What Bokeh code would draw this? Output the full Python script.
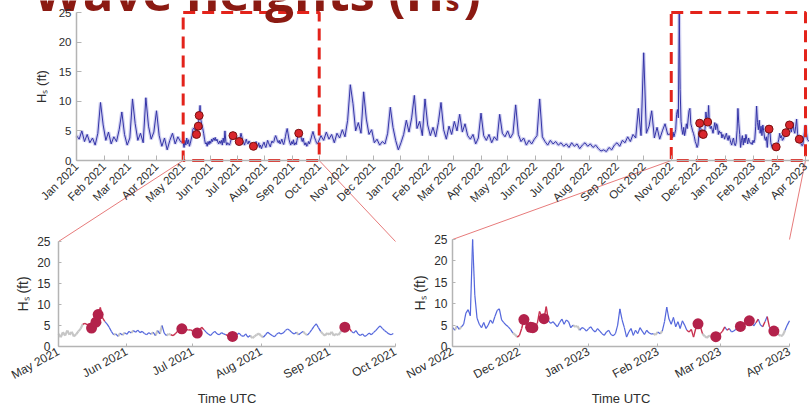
import math
import numpy as np
import pandas as pd
from bokeh.plotting import figure
from bokeh.models import Range1d, LinearAxis, FixedTicker
from bokeh.core.properties import value
from bokeh.embed import file_html
from bokeh.resources import INLINE

W, H = 809, 406

# ---------------- data ----------------
# coarse part, Jan 1 - Apr 28 2021, every 3 days
SEG_A_START = "2021-01-01"
SEG_A_HS = [4.2, 3.6, 5.0, 3.2, 4.4, 3.0, 3.8, 2.6, 4.6, 9.8, 6.0, 3.4, 4.8, 2.8, 4.0,
            3.2, 5.2, 8.2, 4.4, 2.6, 3.8, 10.4, 6.2, 3.4, 4.6, 3.0, 10.6, 5.8, 3.6, 4.8,
            8.4, 4.2, 2.4, 3.8, 1.8, 3.4, 4.6, 2.8, 4.0, 3.2]

# zoom window 1, May 1 - Sep 30 2021, daily
W1_START = "2021-05-01"
W1_HS = [3.0, 2.2, 3.4, 2.6, 3.8, 2.8, 3.5, 2.4, 2.9, 3.6, 4.2,
         5.3, 5.5, 5.2, 5.4, 4.4, 5.0, 5.8, 7.6, 9.3, 6.8,
         6.0, 5.4, 4.6, 3.6,
         2.8, 3.0, 2.4, 3.2, 2.7, 3.3, 2.9, 3.6, 3.2,
         3.8, 3.4, 3.9, 3.3, 3.6, 3.1, 2.8, 3.3,
         2.9, 3.4, 2.6, 3.8, 3.0, 5.0, 3.2, 2.6, 3.0,
         2.8, 2.6, 3.0, 3.6,
         4.0, 4.2, 4.3, 4.1, 3.9, 4.0, 3.6, 3.4, 3.2,
         3.8, 4.6, 4.0, 3.4,
         3.0, 2.6, 3.2, 3.6, 3.0, 2.8, 3.3, 3.0,
         2.8, 2.6, 2.5, 2.4, 2.6,
         2.8, 3.2, 2.6, 2.4, 3.0, 2.2, 2.6, 2.0, 2.4, 2.8, 3.1, 2.5, 2.2, 2.8, 3.4,
         3.0, 2.6, 2.3, 2.9, 3.3, 3.0,
         3.2, 3.8, 4.2, 3.8, 3.3, 3.0, 3.4, 2.8, 3.2, 3.6, 3.0, 2.7, 3.3, 4.0, 4.8,
         5.4, 4.5,
         3.6, 3.0, 2.6, 3.2, 2.8, 3.5, 2.6, 3.0, 2.7, 3.4,
         4.2, 4.6, 5.2, 4.4,
         3.6, 3.2, 3.8, 3.0, 2.6, 3.0, 2.4, 2.7, 3.2, 2.8, 3.3, 3.8, 4.4, 4.9, 4.3,
         3.8, 3.4, 3.0, 2.8, 3.1]
# g = grey, b = blue, r = red line colour for each day
W1_FLAGS = ("ggggggggggg" "rrrrrrrrrr" "bbbb" "gbgbgbbbg" "bbbbbbbb" "gbgbgbbgg"
            "rrrr" "rrrrrrrrr" "rrbb" "bbbbbbbb" "rrrrr" "bbbbbbggggggbbbbbbbbb"
            "bbbbbbgbbggbbbbbb" "gggggggggg" "rrrr" "bbbbbbbbbbbbbbbbbbbb")

# coarse part, Oct 3 2021 - Oct 28 2022, every 3 days
SEG_B_START = "2021-10-03"
SEG_B_HS = [4.2, 3.4, 4.8, 3.6, 4.4, 3.0, 4.6, 3.8, 5.2, 4.0,
            6.8, 12.8, 9.6, 5.0, 6.4, 4.6, 11.6, 7.0, 4.4, 5.2,
            3.0, 3.6, 2.6, 3.2, 2.8, 4.6, 9.0, 5.6, 3.4, 1.8,
            3.0, 4.4, 6.8, 4.8, 7.2, 11.0, 5.4, 6.6, 4.2, 10.4,
            6.0, 4.2, 5.6, 4.0, 6.4, 9.8, 5.2, 3.6, 5.8, 4.4,
            6.6, 5.0, 7.8, 4.8, 6.2, 4.2, 3.6, 4.4, 2.8, 3.8,
            8.0, 4.2, 3.4, 4.4, 3.0, 4.0, 3.4, 7.8, 4.6, 4.0,
            5.0, 3.8, 4.6, 9.4, 4.4, 3.2, 3.8, 2.6, 3.4, 2.8,
            3.6, 4.2, 10.4, 4.0, 3.2, 2.6, 3.4, 2.8, 3.2, 2.6,
            3.0, 2.4, 2.8, 2.2, 3.0, 2.4, 2.8, 2.0, 2.6, 3.0,
            2.4, 2.8, 2.2, 2.6, 2.0, 1.6, 1.8, 1.5, 2.2, 1.8,
            2.6, 3.0, 2.4, 3.4, 3.0, 4.0, 3.2, 4.4, 3.8, 8.8, 4.2,
            18.2, 4.6, 5.8, 8.4, 3.8, 5.6, 3.6, 5.0, 6.2, 4.4]

# zoom window 2, Nov 1 2022 - Apr 1 2023, daily
W2_START = "2022-11-01"
W2_HS = [4.5, 3.8, 4.8, 4.0, 4.6, 5.2,
         7.8, 8.6, 7.2,
         25.0, 12.0,
         6.6, 5.2, 4.4, 5.6, 4.2, 5.0, 6.2, 5.4, 7.0, 8.4,
         8.8, 6.2, 5.6, 5.0, 4.6, 4.0,
         3.2, 2.8, 2.2,
         2.6, 4.2, 6.3, 5.6,
         4.8, 4.5, 4.4, 4.6, 5.4,
         8.2, 7.0, 6.5, 9.3,
         6.0, 5.4, 5.8, 5.2,
         4.6, 5.6, 6.4, 5.2, 6.2, 5.8, 4.4,
         5.0, 4.6, 4.8,
         3.8, 4.4, 4.2, 3.6,
         4.2, 4.6, 3.8, 3.4, 4.2, 3.6,
         3.0, 2.6, 3.4, 3.8, 2.8, 2.5, 3.0,
         5.0, 8.8, 6.2, 4.4,
         2.2, 3.4, 4.2, 2.6, 3.8, 3.0, 4.4, 3.6, 2.8, 3.8, 3.2, 2.9,
         3.0, 2.7, 3.4, 3.0, 3.6,
         5.8, 9.2, 6.4,
         5.2, 6.8, 4.6, 5.8, 4.2, 6.0, 5.0,
         3.8, 3.4, 4.0, 2.2,
         4.2, 5.3, 4.8,
         3.0, 2.4, 2.0, 2.6, 2.2, 2.5,
         2.3, 2.6, 3.0,
         3.6, 4.6, 3.8, 4.2, 3.4,
         3.6, 4.0, 4.4,
         4.7, 4.9, 5.4, 5.8, 6.0,
         5.6, 4.8, 5.6, 6.4, 5.0, 4.6, 5.8, 7.0, 4.6,
         3.8, 3.6, 3.4,
         2.8, 2.5, 2.6, 3.8, 5.0,
         6.0]
W2_FLAGS = ("bgbgbb" "bbb" "bb" "bbbbbbbbbb" "bbbbbb" "ggr" "rrrr" "rrrrr" "rrrr"
            "bbbb" "bbbbbbb" "ggg" "bbbb" "bbbbbb" "bbbbbbb" "bbbb" "bbbbbbbbbbbb"
            "ggbgb" "bbb" "bbbbbbb" "rrrr" "rrr" "gggggg" "rrr" "rbrbb" "bbb"
            "rrrrr" "bbrbbrbrb" "rrr" "gggbb" "b")

# after the second window, every 2 days
SEG_C_START = "2023-04-03"
SEG_C_HS = [3.6, 3.2]

# highlighted events
EVENT_DATES = ["2021-05-16", "2021-05-18", "2021-05-19", "2021-06-26", "2021-07-03",
               "2021-07-19", "2021-09-08",
               "2022-12-03", "2022-12-06", "2022-12-07", "2022-12-12", "2023-02-19",
               "2023-02-27", "2023-03-10", "2023-03-14", "2023-03-25"]
EVENT_HS = [4.4, 5.8, 7.6, 4.2, 3.2, 2.4, 4.6,
            6.3, 4.5, 4.4, 6.5, 5.3, 2.3, 4.7, 6.0, 3.6]

# zoom windows (boxes)
BOX_STARTS = ["2021-05-01", "2022-11-01"]
BOX_ENDS = ["2021-10-01", "2023-04-01"]
BOX_TOP = 25

TOP_START, TOP_END = "2021-01-01", "2023-04-01"
TOP_TICK_DATES = list(pd.date_range("2021-01-01", "2023-04-01", freq="MS"))
TOP_TICK_LABELS = [d.strftime("%b %Y") for d in TOP_TICK_DATES]
BL_TICK_DATES = list(pd.date_range("2021-05-01", "2021-10-01", freq="MS"))
BL_TICK_LABELS = [d.strftime("%b %Y") for d in BL_TICK_DATES]
BR_TICK_DATES = list(pd.date_range("2022-11-01", "2023-04-01", freq="MS"))
BR_TICK_LABELS = [d.strftime("%b %Y") for d in BR_TICK_DATES]
Y_TICKS = [0, 5, 10, 15, 20, 25]

TITLE_MAIN, TITLE_SUB, TITLE_END = "Wave heights (H", "s", ")"
YLABEL = "H\u209b (ft)"
XLABEL = "Time UTC"

# ---------------- helpers ----------------
def ms(d):
    return pd.Timestamp(d).value / 1e6


def dates_ms(start, n, step):
    return [ms(d) for d in pd.date_range(start, periods=n, freq=f"{step}D")]


def span_range(v0, p0, v1, p1, total):
    k = (v1 - v0) / (p1 - p0)
    start = v0 - p0 * k
    return Range1d(start=start, end=start + total * k)


def px_x(rng, v):
    return (v - rng.start) / (rng.end - rng.start) * W


def px_y(rng, v):  # pixels from the top
    return H - (v - rng.start) / (rng.end - rng.start) * H


# ranges: each panel's data mapped into its place on one canvas
tx = span_range(ms(TOP_START), 76, ms(TOP_END), 805, W)
ty = span_range(0, H - 160, 25, H - 12, H)
blx = span_range(ms(BOX_STARTS[0]), 58, ms(BOX_ENDS[0]), 395, W)
bly = span_range(0, H - 346, 25, H - 241, H)
brx = span_range(ms(BOX_STARTS[1]), 452, ms(BOX_ENDS[1]), 789, W)
bry = span_range(0, H - 346, 25, H - 239, H)

p = figure(width=W, height=H, output_backend="svg", toolbar_location=None,
           x_axis_location=None, y_axis_location=None, title=None,
           x_range=Range1d(0, W), y_range=Range1d(H, 0), min_border=0)
p.extra_x_ranges = {"tx": tx, "blx": blx, "brx": brx}
p.extra_y_ranges = {"ty": ty, "bly": bly, "bry": bry}
p.outline_line_color = None
p.background_fill_color = "white"
p.border_fill_color = "white"
p.grid.visible = False

AX_COLOR = "#b4b4b4"
LBL_COLOR = "#2e2e2e"
FONT = "Liberation Sans"


def add_axes(xr, yr, x0, x1, tick_dates, tick_labels, orient, size, ystand, xstand, tick_in):
    tick_ms = [int(ms(d)) for d in tick_dates]
    xa = LinearAxis(x_range_name=xr, y_range_name=yr, fixed_location=0,
                    bounds=(x0, x1), ticker=FixedTicker(ticks=tick_ms),
                    major_label_overrides={t: l for t, l in zip(tick_ms, tick_labels)},
                    major_label_orientation=orient, major_label_standoff=xstand)
    ya = LinearAxis(x_range_name=xr, y_range_name=yr, fixed_location=ms(tick_dates[0]),
                    bounds=(0, 25), ticker=FixedTicker(ticks=Y_TICKS),
                    major_label_standoff=ystand)
    for a in (xa, ya):
        a.axis_line_color = AX_COLOR
        a.axis_line_width = 1.5
        a.major_tick_line_color = AX_COLOR
        a.major_tick_in = tick_in
        a.major_tick_out = 0
        a.minor_tick_line_color = None
        a.major_label_text_color = LBL_COLOR
        a.major_label_text_font = FONT
        a.major_label_text_font_size = size
    p.add_layout(xa, "below")
    p.add_layout(ya, "left")


# ---------------- top panel ----------------
top_x = (dates_ms(SEG_A_START, len(SEG_A_HS), 3) + dates_ms(W1_START, len(W1_HS), 1)
         + dates_ms(SEG_B_START, len(SEG_B_HS), 3) + dates_ms(W2_START, len(W2_HS), 1)
         + dates_ms(SEG_C_START, len(SEG_C_HS), 2))
top_y = SEG_A_HS + W1_HS + SEG_B_HS + W2_HS + SEG_C_HS

p.line(top_x, top_y, x_range_name="tx", y_range_name="ty",
       line_color="#a9a9e6", line_width=3.5, line_alpha=0.55)
p.line(top_x, top_y, x_range_name="tx", y_range_name="ty",
       line_color="#3333a6", line_width=1)

ev_x = [ms(d) for d in EVENT_DATES]
p.scatter(ev_x, EVENT_HS, x_range_name="tx", y_range_name="ty", size=8,
          fill_color="#d9262c", line_color="#7a1010", line_width=1)

p.quad(left=[ms(d) for d in BOX_STARTS], right=[ms(d) for d in BOX_ENDS],
       bottom=[0, 0], top=[BOX_TOP, BOX_TOP], x_range_name="tx", y_range_name="ty",
       fill_color=None, line_color="#e3231b", line_width=3, line_dash="12 7")

add_axes("tx", "ty", ms(TOP_START), tx.end, TOP_TICK_DATES, TOP_TICK_LABELS,
         math.pi / 4, "11.5px", 5, 4, 5)

# ---------------- bottom panels ----------------
COLORS = {"b": "#5366dc", "g": "#c6c6c6", "r": "#c8304f"}
WIDTHS = {"b": 1.2, "g": 2.2, "r": 1.4}


def window_lines(xr, yr, start, hs, flags):
    xs = dates_ms(start, len(hs), 1)
    flags = (flags + "b" * len(hs))[:len(hs)]
    for f in ("g", "b", "r"):
        idx = [i for i in range(len(hs) - 1) if flags[i] == f]
        p.segment(x0=[xs[i] for i in idx], y0=[hs[i] for i in idx],
                  x1=[xs[i + 1] for i in idx], y1=[hs[i + 1] for i in idx],
                  x_range_name=xr, y_range_name=yr,
                  line_color=COLORS[f], line_width=WIDTHS[f])


window_lines("blx", "bly", W1_START, W1_HS, W1_FLAGS)
window_lines("brx", "bry", W2_START, W2_HS, W2_FLAGS)

for xr, yr, s, e in (("blx", "bly", BOX_STARTS[0], BOX_ENDS[0]),
                     ("brx", "bry", BOX_STARTS[1], BOX_ENDS[1])):
    sel = [i for i, d in enumerate(EVENT_DATES) if ms(s) <= ms(d) <= ms(e)]
    p.scatter([ev_x[i] for i in sel], [EVENT_HS[i] for i in sel], x_range_name=xr,
              y_range_name=yr, size=11, fill_color="#b3224b", line_color=None)

add_axes("blx", "bly", ms(BOX_STARTS[0]), ms(BOX_ENDS[0]), BL_TICK_DATES, BL_TICK_LABELS,
         0.5, "12px", 8, 4, 3)
add_axes("brx", "bry", ms(BOX_STARTS[1]), ms(BOX_ENDS[1]), BR_TICK_DATES, BR_TICK_LABELS,
         0.5, "12px", 5, 4, 3)

# connector lines from the boxes to the zoomed panels
cx0, cy0, cx1, cy1 = [], [], [], []
for i, (brng, byr) in enumerate(((blx, bly), (brx, bry))):
    for d in (BOX_STARTS[i], BOX_ENDS[i]):
        cx0.append(px_x(tx, ms(d)))
        cy0.append(px_y(ty, 0))
        cx1.append(px_x(brng, ms(d)))
        cy1.append(px_y(byr, BOX_TOP))
p.segment(x0=cx0, y0=cy0, x1=cx1, y1=cy1, line_color="#e77b7b", line_width=1)

# axis titles
p.text(x=[41], y=[12.5], text=[YLABEL], y_range_name="ty", angle=math.pi / 2,
       text_align="center", text_baseline="middle", text_font=value(FONT),
       text_font_size="13px", text_color=LBL_COLOR)
p.text(x=[22], y=[12.5], text=[YLABEL], y_range_name="bly", angle=math.pi / 2,
       text_align="center", text_baseline="middle", text_font=value(FONT),
       text_font_size="14px", text_color=LBL_COLOR)
p.text(x=[419], y=[12.5], text=[YLABEL], y_range_name="bry", angle=math.pi / 2,
       text_align="center", text_baseline="middle", text_font=value(FONT),
       text_font_size="14px", text_color=LBL_COLOR)
for xr, s, e in (("blx", BOX_STARTS[0], BOX_ENDS[0]), ("brx", BOX_STARTS[1], BOX_ENDS[1])):
    p.text(x=[(ms(s) + ms(e)) / 2], y=[398], text=[XLABEL], x_range_name=xr,
           text_align="center", text_baseline="middle", text_font=value(FONT),
           text_font_size="13px", text_color=LBL_COLOR)

# cropped title (only its lower part is inside the picture)
TITLE_COLOR = "#8b1a12"
p.text(x=[444], y=[-10], text=[TITLE_MAIN], text_align="right", text_baseline="alphabetic",
       text_font=value("Open Sans"), text_font_style="bold", text_font_size="51px",
       text_color=TITLE_COLOR)
p.text(x=[445], y=[-1], text=[TITLE_SUB], text_align="left", text_baseline="alphabetic",
       text_font=value("Open Sans"), text_font_style="bold", text_font_size="28px",
       text_color=TITLE_COLOR)
p.text(x=[463], y=[-9], text=[TITLE_END], text_align="left", text_baseline="alphabetic",
       text_font=value("Open Sans"), text_font_style="bold", text_font_size="51px",
       text_color=TITLE_COLOR)

open("out.html", "w").write(file_html(p, INLINE))
